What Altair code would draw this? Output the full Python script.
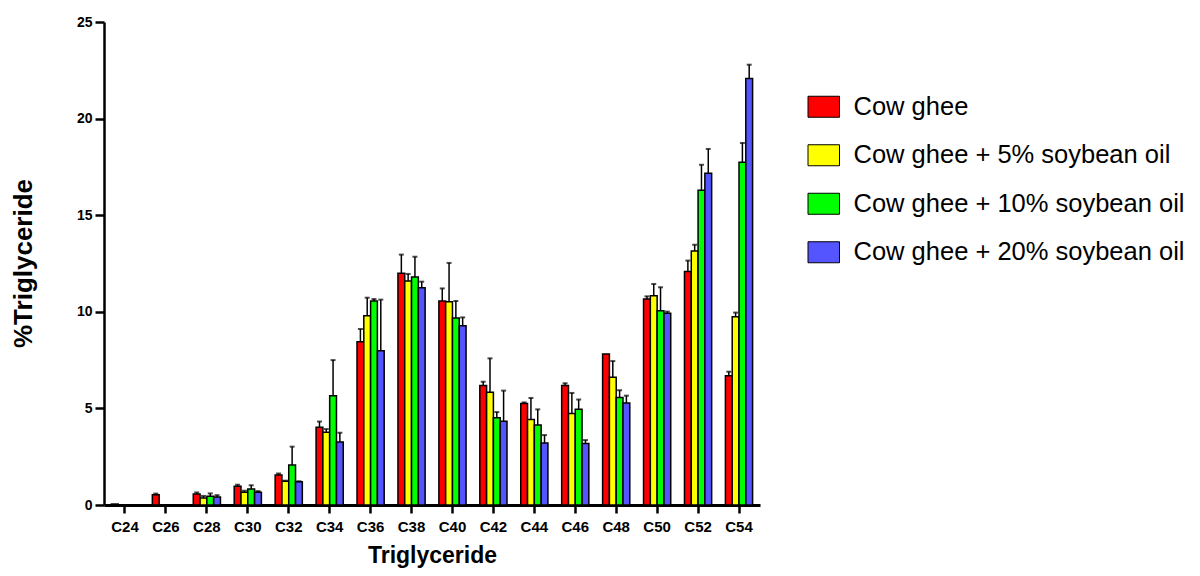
import altair as alt
import pandas as pd

categories = ["C24", "C26", "C28", "C30", "C32", "C34", "C36", "C38",
              "C40", "C42", "C44", "C46", "C48", "C50", "C52", "C54"]
series = ["Cow ghee", "Cow ghee + 5% soybean oil",
          "Cow ghee + 10% soybean oil", "Cow ghee + 20% soybean oil"]
colors = ["#FF0000", "#FFFF00", "#00FF00", "#5555FF"]

cow_ghee = [0.05, 0.53, 0.57, 0.97, 1.55, 4.02, 8.45, 11.99,
            10.56, 6.18, 5.26, 6.18, 7.82, 10.66, 12.08, 6.69]
cow_ghee_err = [0.0, 0.06, 0.08, 0.08, 0.08, 0.30, 0.66, 0.97,
                0.65, 0.20, 0.05, 0.12, 0.0, 0.14, 0.57, 0.21]
soy5 = [0.0, 0.0, 0.36, 0.66, 1.23, 3.76, 9.80, 11.59,
        10.52, 5.83, 4.42, 4.73, 6.61, 10.83, 13.15, 9.74]
soy5_err = [0.0, 0.0, 0.11, 0.08, 0.03, 0.17, 0.93, 0.37,
            2.01, 1.76, 1.12, 1.07, 0.84, 0.61, 0.32, 0.22]
soy10 = [0.0, 0.0, 0.45, 0.83, 2.07, 5.65, 10.56, 11.80,
         9.68, 4.52, 4.14, 4.96, 5.56, 10.06, 16.29, 17.74]
soy10_err = [0.0, 0.0, 0.15, 0.19, 0.95, 1.85, 0.10, 1.05,
             0.88, 0.29, 0.81, 0.50, 0.38, 1.21, 1.32, 1.00]
soy20 = [0.0, 0.0, 0.41, 0.66, 1.20, 3.26, 7.99, 11.25,
         9.28, 4.33, 3.21, 3.18, 5.28, 9.92, 17.17, 22.08]
soy20_err = [0.0, 0.0, 0.10, 0.06, 0.03, 0.48, 2.64, 0.31,
             0.43, 1.59, 0.41, 0.18, 0.38, 0.09, 1.26, 0.71]

rows = []
for s, vals, errs in zip(series, [cow_ghee, soy5, soy10, soy20],
                         [cow_ghee_err, soy5_err, soy10_err, soy20_err]):
    for c, v, e in zip(categories, vals, errs):
        if v > 0:
            rows.append({"cat": c, "series": s, "value": v, "top": v + e, "err": e})
df = pd.DataFrame(rows)

FONT = "Liberation Sans"

x_enc = alt.X(
    "cat:N", sort=categories,
    scale=alt.Scale(domain=categories, paddingInner=0.336, paddingOuter=0.181),
    axis=alt.Axis(
        title="Triglyceride", labelAngle=0, labelFont=FONT, labelFontSize=15,
        labelFontWeight="bold", labelColor="black", labelPadding=6,
        tickSize=8, tickWidth=2.5, tickColor="black",
        domainColor="black", domainWidth=3,
        titleFont=FONT, titleFontSize=23, titleFontWeight="bold", titleColor="black",
        titleBaseline="alphabetic", titleY=57, grid=False,
    ),
)
xo_enc = alt.XOffset("series:N", sort=series,
                     scale=alt.Scale(domain=series, paddingInner=0, paddingOuter=0))
y_enc = alt.Y(
    "value:Q",
    scale=alt.Scale(domain=[0, 25], nice=False, zero=True),
    axis=alt.Axis(
        values=[0, 5, 10, 15, 20, 25], title="%Triglyceride",
        labelFont=FONT, labelFontSize=14, labelFontWeight="bold", labelColor="black",
        labelPadding=3, tickSize=9, tickWidth=2.5, tickColor="black",
        domainColor="black", domainWidth=2.5,
        titleFont=FONT, titleFontSize=26, titleFontWeight="bold", titleColor="black",
        titleAngle=270, titleBaseline="alphabetic", titleAlign="center",
        titleX=-73, titleY=241, grid=False,
    ),
)

bars = alt.Chart(df).mark_bar(stroke="black", strokeWidth=1.5, opacity=1).encode(
    x=x_enc,
    xOffset=xo_enc,
    y=y_enc,
    color=alt.Color(
        "series:N", sort=series,
        scale=alt.Scale(domain=series, range=colors),
        legend=alt.Legend(
            title=None, orient="none", legendX=707, legendY=72, direction="vertical",
            symbolType="M-1.5,-1H1.5V1H-1.5Z", symbolSize=441,
            symbolStrokeColor="black", symbolStrokeWidth=1, symbolOpacity=1,
            labelFont=FONT, labelFontSize=25.5, labelColor="black",
            labelOffset=17, rowPadding=21.5, labelLimit=500, padding=0,
        ),
    ),
)

err_df = df[df["err"] > 0]
rules = alt.Chart(err_df).mark_rule(color="black", strokeWidth=1.5).encode(
    x=x_enc, xOffset=xo_enc, y="value:Q", y2="top:Q"
)
caps = alt.Chart(err_df).mark_tick(color="black", thickness=2, size=5, orient="horizontal").encode(
    x=x_enc, xOffset=xo_enc, y="top:Q"
)

chart = alt.layer(rules, bars, caps).properties(
    width=656, height=483,
    autosize=alt.AutoSizeParams(type="none"),
    padding={"left": 96, "top": 14, "right": 432, "bottom": 63},
).configure_view(stroke=None)

chart.save("out.html", embed_options={"renderer": "svg", "actions": False})
